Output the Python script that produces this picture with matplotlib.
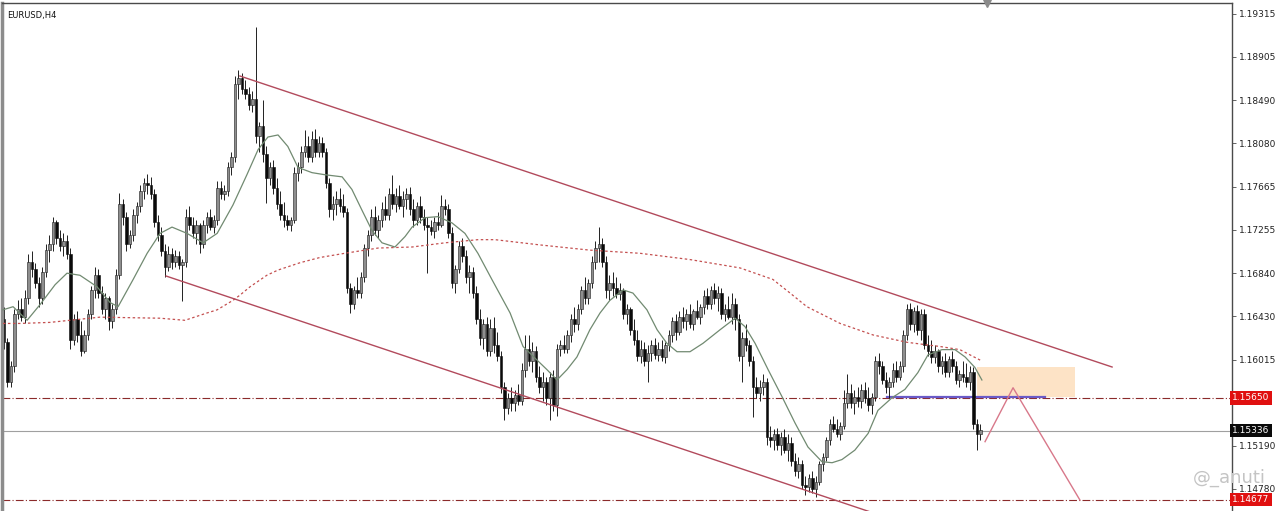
import matplotlib
matplotlib.use('agg')
import matplotlib.pyplot as plt
import matplotlib.transforms as mtransforms
import numpy as np

# EURUSD H4 candles (one per bar, oldest first)
opens = [
    1.1640, 1.1618, 1.1580, 1.1595, 1.1645, 1.1650, 1.1642, 1.1660, 1.1695, 1.1688,
    1.1675, 1.1660, 1.1685, 1.1706, 1.1712, 1.1733, 1.1718, 1.1710, 1.1715, 1.1702,
    1.1620, 1.1640, 1.1625, 1.1610, 1.1625, 1.1645, 1.1668, 1.1682, 1.1665, 1.1650,
    1.1660, 1.1638, 1.1650, 1.1682, 1.1750, 1.1738, 1.1712, 1.1720, 1.1740, 1.1748,
    1.1762, 1.1770, 1.1768, 1.1760, 1.1733, 1.1720, 1.1705, 1.1690, 1.1702, 1.1695,
    1.1700, 1.1692, 1.1695, 1.1738, 1.1730, 1.1722, 1.1730, 1.1712, 1.1730, 1.1738,
    1.1728, 1.1735, 1.1765, 1.1760, 1.1762, 1.1785, 1.1795, 1.1865, 1.1870, 1.1860,
    1.1855, 1.1845, 1.1850, 1.1815, 1.1825, 1.1798, 1.1775, 1.1785, 1.1765, 1.1750,
    1.1740, 1.1735, 1.1730, 1.1735, 1.1780, 1.1785, 1.1800, 1.1805, 1.1795, 1.1812,
    1.1800, 1.1808, 1.1800, 1.1770, 1.1745, 1.1750, 1.1755, 1.1748, 1.1742, 1.1670,
    1.1655, 1.1668, 1.1665, 1.1680, 1.1708, 1.1720, 1.1738, 1.1725, 1.1735, 1.1745,
    1.1740, 1.1760, 1.1750, 1.1758, 1.1748, 1.1755, 1.1760, 1.1745, 1.1735, 1.1748,
    1.1738, 1.1730, 1.1728, 1.1724, 1.1733, 1.1730, 1.1748, 1.1745, 1.1722, 1.1675,
    1.1688, 1.1710, 1.1700, 1.1680, 1.1685, 1.1665, 1.1640, 1.1622, 1.1635, 1.1610,
    1.1632, 1.1615, 1.1605, 1.1575, 1.1555, 1.1565, 1.1560, 1.1568, 1.1562, 1.1592,
    1.1612, 1.1600, 1.1610, 1.1585, 1.1575, 1.1580, 1.1565, 1.1585, 1.1558, 1.1612,
    1.1615, 1.1612, 1.1625, 1.1640, 1.1635, 1.1650, 1.1668, 1.1660, 1.1675, 1.1695,
    1.1708, 1.1712, 1.1695, 1.1668, 1.1675, 1.1670, 1.1664, 1.1668, 1.1645, 1.1650,
    1.1630, 1.1620, 1.1605, 1.1612, 1.1600, 1.1608, 1.1615, 1.1606, 1.1612, 1.1604,
    1.1615, 1.1625, 1.1638, 1.1628, 1.1642, 1.1638, 1.1645, 1.1635, 1.1648, 1.1642,
    1.1652, 1.1662, 1.1655, 1.1668, 1.1660, 1.1665, 1.1645, 1.1650, 1.1642, 1.1655,
    1.1640, 1.1605, 1.1622, 1.1615, 1.1600, 1.1575, 1.1570, 1.1575, 1.1580, 1.1528,
    1.1525, 1.1530, 1.1520, 1.1528, 1.1515, 1.1522, 1.1505, 1.1495, 1.1502, 1.1482,
    1.1480, 1.1488, 1.1478, 1.1485, 1.1502, 1.1508, 1.1525, 1.1540, 1.1535, 1.1530,
    1.1538, 1.1560, 1.1570, 1.1560, 1.1566, 1.1562, 1.1572, 1.1565, 1.1558, 1.1566,
    1.1600, 1.1595, 1.1582, 1.1575, 1.1580, 1.1592, 1.1585, 1.1595, 1.1625, 1.1650,
    1.1635, 1.1648, 1.1630, 1.1645, 1.1615, 1.1610, 1.1604, 1.1610, 1.1595, 1.1600,
    1.1590, 1.1602, 1.1595, 1.1582, 1.1588, 1.1585, 1.1580, 1.1590, 1.1540, 1.1530,
]
highs = [
    1.1652, 1.1622, 1.1600, 1.1650, 1.1658, 1.1660, 1.1668, 1.1702, 1.1705, 1.1694,
    1.1680, 1.1690, 1.1712, 1.1720, 1.1738, 1.1735, 1.1725, 1.1722, 1.1720, 1.1708,
    1.1645, 1.1648, 1.1638, 1.1630, 1.1650, 1.1672, 1.1690, 1.1688, 1.1672, 1.1665,
    1.1662, 1.1655, 1.1688, 1.1761, 1.1755, 1.1742, 1.1725, 1.1745, 1.1752, 1.1768,
    1.1775, 1.1779, 1.1776, 1.1764, 1.1740, 1.1728, 1.1712, 1.1710, 1.1708, 1.1706,
    1.1705, 1.1698, 1.1745, 1.1748, 1.1738, 1.1735, 1.1732, 1.1735, 1.1742, 1.1745,
    1.1740, 1.1772, 1.1772, 1.1768, 1.1790, 1.1800, 1.1872, 1.1878, 1.1875, 1.1868,
    1.1862, 1.1858, 1.1919, 1.1828, 1.1849, 1.1805, 1.1790, 1.1792, 1.1775, 1.1762,
    1.1752, 1.1740, 1.1738, 1.1785, 1.1790, 1.1805, 1.1821, 1.1815, 1.1820, 1.1822,
    1.1815, 1.1814, 1.1804, 1.1775, 1.1758, 1.1762, 1.1765, 1.1760, 1.1746, 1.1675,
    1.1672, 1.1680, 1.1685, 1.1712, 1.1725, 1.1745, 1.1748, 1.1740, 1.1752, 1.1758,
    1.1765, 1.1778, 1.1765, 1.1768, 1.1762, 1.1765, 1.1766, 1.1755, 1.1752, 1.1758,
    1.1745, 1.1738, 1.1735, 1.1738, 1.1742, 1.1759, 1.1755, 1.1750, 1.1728, 1.1692,
    1.1715, 1.1718, 1.1706, 1.1692, 1.1690, 1.1672, 1.1650, 1.1640, 1.1642, 1.1640,
    1.1642, 1.1628, 1.1610, 1.1580, 1.1570, 1.1575, 1.1572, 1.1578, 1.1598, 1.1625,
    1.1625, 1.1618, 1.1614, 1.1595, 1.1590, 1.1585, 1.1590, 1.1592, 1.1616, 1.1620,
    1.1625, 1.1630, 1.1645, 1.1652, 1.1655, 1.1672, 1.1680, 1.1678, 1.1700, 1.1715,
    1.1728, 1.1718, 1.1700, 1.1682, 1.1685, 1.1680, 1.1675, 1.1670, 1.1655, 1.1652,
    1.1640, 1.1630, 1.1620, 1.1618, 1.1615, 1.1620, 1.1622, 1.1618, 1.1620, 1.1618,
    1.1630, 1.1642, 1.1645, 1.1648, 1.1652, 1.1650, 1.1655, 1.1650, 1.1658, 1.1655,
    1.1668, 1.1670, 1.1672, 1.1675, 1.1672, 1.1670, 1.1655, 1.1662, 1.1665, 1.1660,
    1.1645, 1.1628, 1.1635, 1.1620, 1.1605, 1.1585, 1.1582, 1.1588, 1.1584, 1.1538,
    1.1535, 1.1536, 1.1532, 1.1535, 1.1530, 1.1528, 1.1512, 1.1508, 1.1506, 1.1490,
    1.1492, 1.1495, 1.1490, 1.1505, 1.1512, 1.1528, 1.1545, 1.1548, 1.1545, 1.1542,
    1.1572, 1.1588, 1.1578, 1.1572, 1.1575, 1.1578, 1.1580, 1.1575, 1.1570, 1.1605,
    1.1608, 1.1600, 1.1590, 1.1585, 1.1598, 1.1600, 1.1600, 1.1630, 1.1655, 1.1656,
    1.1652, 1.1654, 1.1650, 1.1650, 1.1625, 1.1620, 1.1615, 1.1612, 1.1605, 1.1608,
    1.1605, 1.1610, 1.1600, 1.1592, 1.1600, 1.1598, 1.1595, 1.1594, 1.1545, 1.1540,
]
lows = [
    1.1612, 1.1575, 1.1575, 1.1590, 1.1640, 1.1638, 1.1636, 1.1655, 1.1680, 1.1670,
    1.1652, 1.1655, 1.1680, 1.1695, 1.1705, 1.1712, 1.1705, 1.1700, 1.1698, 1.1612,
    1.1615, 1.1618, 1.1605, 1.1608, 1.1620, 1.1640, 1.1660, 1.1660, 1.1645, 1.1640,
    1.1630, 1.1632, 1.1645, 1.1678, 1.1730, 1.1705, 1.1708, 1.1715, 1.1732, 1.1742,
    1.1755, 1.1760, 1.1755, 1.1728, 1.1715, 1.1700, 1.1680, 1.1686, 1.1688, 1.1690,
    1.1688, 1.1657, 1.1690, 1.1725, 1.1718, 1.1712, 1.1703, 1.1708, 1.1722, 1.1725,
    1.1722, 1.1730, 1.1755, 1.1754, 1.1758, 1.1778, 1.1790, 1.1850, 1.1855, 1.1850,
    1.1840, 1.1838, 1.1808, 1.1800, 1.1790, 1.1751, 1.1768, 1.1760, 1.1745, 1.1735,
    1.1728, 1.1725, 1.1724, 1.1732, 1.1772, 1.1780, 1.1795, 1.1790, 1.1790, 1.1795,
    1.1795, 1.1795, 1.1765, 1.1738, 1.1735, 1.1740, 1.1742, 1.1738, 1.1665, 1.1646,
    1.1650, 1.1660, 1.1660, 1.1676, 1.1700, 1.1715, 1.1720, 1.1718, 1.1728, 1.1735,
    1.1735, 1.1745, 1.1742, 1.1745, 1.1738, 1.1745, 1.1740, 1.1728, 1.1730, 1.1732,
    1.1725, 1.1684, 1.1720, 1.1718, 1.1725, 1.1728, 1.1740, 1.1718, 1.1670, 1.1665,
    1.1684, 1.1695, 1.1675, 1.1665, 1.1660, 1.1635, 1.1615, 1.1612, 1.1605, 1.1605,
    1.1608, 1.1600, 1.1570, 1.1544, 1.1550, 1.1552, 1.1552, 1.1558, 1.1558, 1.1585,
    1.1595, 1.1590, 1.1580, 1.1570, 1.1562, 1.1558, 1.1544, 1.1552, 1.1548, 1.1605,
    1.1608, 1.1608, 1.1618, 1.1628, 1.1630, 1.1645, 1.1655, 1.1655, 1.1670, 1.1688,
    1.1695, 1.1690, 1.1660, 1.1658, 1.1662, 1.1660, 1.1658, 1.1640, 1.1635, 1.1625,
    1.1615, 1.1600, 1.1598, 1.1595, 1.1580, 1.1600, 1.1602, 1.1600, 1.1600, 1.1598,
    1.1610, 1.1618, 1.1620, 1.1625, 1.1632, 1.1630, 1.1632, 1.1630, 1.1640, 1.1635,
    1.1645, 1.1650, 1.1650, 1.1655, 1.1648, 1.1640, 1.1638, 1.1640, 1.1635, 1.1630,
    1.1600, 1.1580, 1.1610, 1.1595, 1.1547, 1.1565, 1.1562, 1.1568, 1.1520, 1.1518,
    1.1515, 1.1515, 1.1510, 1.1512, 1.1505, 1.1500, 1.1490, 1.1488, 1.1478, 1.1472,
    1.1475, 1.1474, 1.1470, 1.1482, 1.1495, 1.1505, 1.1520, 1.1532, 1.1528, 1.1525,
    1.1535, 1.1555, 1.1555, 1.1550, 1.1556, 1.1555, 1.1560, 1.1552, 1.1550, 1.1562,
    1.1588, 1.1578, 1.1570, 1.1565, 1.1575, 1.1580, 1.1582, 1.1590, 1.1620, 1.1630,
    1.1628, 1.1625, 1.1620, 1.1612, 1.1605, 1.1598, 1.1598, 1.1590, 1.1588, 1.1585,
    1.1585, 1.1590, 1.1578, 1.1575, 1.1580, 1.1575, 1.1572, 1.1535, 1.1515, 1.1525,
]
closes = [
    1.1618, 1.1580, 1.1595, 1.1645, 1.1650, 1.1642, 1.1660, 1.1695, 1.1688, 1.1675,
    1.1660, 1.1685, 1.1706, 1.1712, 1.1733, 1.1718, 1.1710, 1.1715, 1.1702, 1.1620,
    1.1640, 1.1625, 1.1610, 1.1625, 1.1645, 1.1668, 1.1682, 1.1665, 1.1650, 1.1660,
    1.1638, 1.1650, 1.1682, 1.1750, 1.1738, 1.1712, 1.1720, 1.1740, 1.1748, 1.1762,
    1.1770, 1.1768, 1.1760, 1.1733, 1.1720, 1.1705, 1.1690, 1.1702, 1.1695, 1.1700,
    1.1692, 1.1695, 1.1738, 1.1730, 1.1722, 1.1730, 1.1712, 1.1730, 1.1738, 1.1728,
    1.1735, 1.1765, 1.1760, 1.1762, 1.1785, 1.1795, 1.1865, 1.1870, 1.1860, 1.1855,
    1.1845, 1.1850, 1.1815, 1.1825, 1.1798, 1.1775, 1.1785, 1.1765, 1.1750, 1.1740,
    1.1735, 1.1730, 1.1735, 1.1780, 1.1785, 1.1800, 1.1805, 1.1795, 1.1812, 1.1800,
    1.1808, 1.1800, 1.1770, 1.1745, 1.1750, 1.1755, 1.1748, 1.1742, 1.1670, 1.1655,
    1.1668, 1.1665, 1.1680, 1.1708, 1.1720, 1.1738, 1.1725, 1.1735, 1.1745, 1.1740,
    1.1760, 1.1750, 1.1758, 1.1748, 1.1755, 1.1760, 1.1745, 1.1735, 1.1748, 1.1738,
    1.1730, 1.1728, 1.1724, 1.1733, 1.1730, 1.1748, 1.1745, 1.1722, 1.1675, 1.1688,
    1.1710, 1.1700, 1.1680, 1.1685, 1.1665, 1.1640, 1.1622, 1.1635, 1.1610, 1.1632,
    1.1615, 1.1605, 1.1575, 1.1555, 1.1565, 1.1560, 1.1568, 1.1562, 1.1592, 1.1612,
    1.1600, 1.1610, 1.1585, 1.1575, 1.1580, 1.1565, 1.1585, 1.1558, 1.1612, 1.1615,
    1.1612, 1.1625, 1.1640, 1.1635, 1.1650, 1.1668, 1.1660, 1.1675, 1.1695, 1.1708,
    1.1712, 1.1695, 1.1668, 1.1675, 1.1670, 1.1664, 1.1668, 1.1645, 1.1650, 1.1630,
    1.1620, 1.1605, 1.1612, 1.1600, 1.1608, 1.1615, 1.1606, 1.1612, 1.1604, 1.1615,
    1.1625, 1.1638, 1.1628, 1.1642, 1.1638, 1.1645, 1.1635, 1.1648, 1.1642, 1.1652,
    1.1662, 1.1655, 1.1668, 1.1660, 1.1665, 1.1645, 1.1650, 1.1642, 1.1655, 1.1640,
    1.1605, 1.1622, 1.1615, 1.1600, 1.1575, 1.1570, 1.1575, 1.1580, 1.1528, 1.1525,
    1.1530, 1.1520, 1.1528, 1.1515, 1.1522, 1.1505, 1.1495, 1.1502, 1.1482, 1.1480,
    1.1488, 1.1478, 1.1485, 1.1502, 1.1508, 1.1525, 1.1540, 1.1535, 1.1530, 1.1538,
    1.1560, 1.1570, 1.1560, 1.1566, 1.1562, 1.1572, 1.1565, 1.1558, 1.1566, 1.1600,
    1.1595, 1.1582, 1.1575, 1.1580, 1.1592, 1.1585, 1.1595, 1.1625, 1.1650, 1.1635,
    1.1648, 1.1630, 1.1645, 1.1615, 1.1610, 1.1604, 1.1610, 1.1595, 1.1600, 1.1590,
    1.1602, 1.1595, 1.1582, 1.1588, 1.1585, 1.1580, 1.1590, 1.1540, 1.1530, 1.1534,
]

# moving averages (bar index, price)
ma_fast_bar = [-0.3, 2.6, 6.6, 10.3, 14.6, 18.0, 21.7, 26.6, 30.3, 32.6,
               36.9, 40.9, 44.6, 48.0, 52.3, 56.9, 60.9, 65.4, 69.4, 72.6,
               75.4, 78.3, 81.1, 84.0, 88.0, 91.7, 96.6, 99.4, 102.3, 105.1,
               108.0, 111.7, 114.6, 116.6, 120.3, 124.0, 128.0, 131.7, 135.4, 139.4,
               144.6, 148.3, 152.3, 155.1, 158.0, 160.9, 163.7, 167.4, 170.3, 173.1,
               176.9, 179.7, 183.7, 186.6, 189.4, 192.3, 196.0, 199.7, 204.6, 208.9,
               211.7, 214.6, 218.3, 222.3, 226.0, 229.7, 233.7, 236.6, 239.4, 243.1,
               246.9, 249.7, 253.7, 257.4, 261.1, 264.0, 268.0, 271.7, 274.6, 277.4,
               279.4]
ma_fast = [1.1649, 1.1652, 1.1639, 1.1654, 1.1673, 1.1684, 1.1682, 1.1671, 1.1656, 1.1652,
           1.1678, 1.1703, 1.1722, 1.1728, 1.1722, 1.1713, 1.1722, 1.1749, 1.1778, 1.1802,
           1.1814, 1.1816, 1.1805, 1.1785, 1.1780, 1.1778, 1.1776, 1.1764, 1.1744, 1.1725,
           1.1713, 1.1709, 1.1719, 1.1728, 1.1737, 1.1738, 1.1732, 1.1722, 1.1703, 1.1678,
           1.1646, 1.1614, 1.1601, 1.1592, 1.1582, 1.1592, 1.1604, 1.1630, 1.1646, 1.1658,
           1.1668, 1.1665, 1.1649, 1.1630, 1.1617, 1.1609, 1.1609, 1.1617, 1.1630, 1.1641,
           1.1633, 1.1617, 1.1592, 1.1566, 1.1541, 1.1518, 1.1504, 1.1503, 1.1506, 1.1515,
           1.1531, 1.1553, 1.1565, 1.1573, 1.1589, 1.1606, 1.1611, 1.1611, 1.1604, 1.1594,
           1.1582]
ma_slow_bar = [-0.3, 4.6, 13.1, 27.4, 44.6, 51.7, 58.0, 60.9, 65.4, 67.4,
               70.3, 75.1, 78.3, 84.6, 90.3, 97.4, 106.9, 116.6, 126.0, 135.4,
               140.3, 153.1, 167.4, 181.7, 196.0, 210.3, 219.7, 224.6, 229.4, 238.9,
               248.3, 258.0, 267.4, 273.1, 278.9]
ma_slow = [1.1636, 1.1636, 1.1637, 1.1642, 1.1641, 1.1639, 1.1646, 1.1649, 1.1658, 1.1663,
           1.1671, 1.1682, 1.1687, 1.1694, 1.1699, 1.1703, 1.1708, 1.1709, 1.1713, 1.1716,
           1.1716, 1.1711, 1.1706, 1.1703, 1.1697, 1.1689, 1.1678, 1.1665, 1.1652, 1.1636,
           1.1625, 1.1618, 1.1614, 1.1611, 1.1601]

# drawn objects (bar index, price)
channel_upper = ([67.4, 316.6], [1.18723, 1.15944])
channel_lower = ([46.3, 250.3], [1.16813, 1.14529])
projection_bar = [280.3, 288.3, 307.4]
projection_price = [1.15231, 1.15746, 1.14674]
zone_bars = (278, 306)
zone_prices = (1.15657, 1.15944)
support_bars = (252.3, 297.4)
support_price = 1.15655

level_resist = 1.15650
level_target = 1.14677
bid_price = 1.15336

tick_values = [1.19315, 1.18905, 1.18490, 1.18080, 1.17665, 1.17255,
               1.16840, 1.16430, 1.16015, 1.15190, 1.14780]
tick_labels = ['1.19315', '1.18905', '1.18490', '1.18080', '1.17665', '1.17255',
               '1.16840', '1.16430', '1.16015', '1.15190', '1.14780']

o = np.array(opens)
h = np.array(highs)
l = np.array(lows)
c = np.array(closes)
x = np.arange(len(c))

fig = plt.figure(figsize=(12.8, 5.11), dpi=100)
ax = fig.add_axes([2 / 1280, 0, 1230 / 1280, 508 / 511])
ax.set_xlim(-0.57, 350.86)
ax.set_ylim(1.14569, 1.19420)

# zone and drawn objects
ax.add_patch(plt.Rectangle((zone_bars[0], zone_prices[0]), zone_bars[1] - zone_bars[0],
                           zone_prices[1] - zone_prices[0], facecolor='#fde3c6',
                           edgecolor='none', zorder=1))

ax.axhline(level_resist, color='#8b2a2a', lw=0.8, ls=(0, (7, 2, 1, 2)), zorder=1.5)
ax.axhline(level_target, color='#8b2a2a', lw=0.8, ls=(0, (7, 2, 1, 2)), zorder=1.5)
ax.axhline(bid_price, color='#a0a0a0', lw=0.8, zorder=1.5)
ax.plot(support_bars, [support_price, support_price], color='#6a5ac8', lw=1.6, zorder=1.6)

# candles
up = c >= o
ax.vlines(x, l, h, color='#111111', lw=0.65, zorder=2)
body = np.maximum(np.abs(c - o), 0.00003)
ax.bar(x[up], body[up], bottom=o[up], width=0.66, color='#8e8e8e',
       edgecolor='#1a1a1a', linewidth=0.4, zorder=2.5)
ax.bar(x[~up], body[~up], bottom=c[~up], width=0.66, color='#0a0a0a',
       edgecolor='#0a0a0a', linewidth=0.4, zorder=2.5)

# moving averages
ax.plot(ma_slow_bar, ma_slow, color='#c45050', lw=0.9, ls=(0, (2, 2)), zorder=3)
ax.plot(ma_fast_bar, ma_fast, color='#718a71', lw=0.9, zorder=3)

# channel and projection
ax.plot(*channel_upper, color='#b24a5c', lw=1.0, zorder=4)
ax.plot(*channel_lower, color='#b24a5c', lw=1.0, zorder=4)
ax.plot(projection_bar, projection_price, color='#d8788a', lw=1.0, zorder=4)

# axes styling
ax.spines['bottom'].set_visible(False)
ax.spines['left'].set_color('#8c8c8c')
ax.spines['left'].set_linewidth(2.5)
ax.spines['top'].set_color('#4a4a4a')
ax.spines['right'].set_color('#4a4a4a')
ax.spines['top'].set_linewidth(1.0)
ax.spines['right'].set_linewidth(1.0)
ax.set_xticks([])
ax.yaxis.tick_right()
ax.set_yticks(tick_values)
ax.set_yticklabels(tick_labels)
ax.tick_params(axis='y', length=3, width=0.6, pad=2, labelsize=6.5,
               colors='#4a4a4a', labelcolor='#222222')

trans = mtransforms.blended_transform_factory(ax.transAxes, ax.transData)
for val, fc in [(level_resist, '#e01010'), (bid_price, '#0a0a0a'), (level_target, '#e01010')]:
    ax.text(1.0, val, f'{val:.5f}', transform=trans, ha='left', va='center',
            fontsize=6.5, color='white', clip_on=False, zorder=6,
            bbox=dict(boxstyle='square,pad=0.25', fc=fc, ec='none'))

ax.plot([281], [1.0], marker='v', color='#8a8a8a', markersize=6,
        transform=mtransforms.blended_transform_factory(ax.transData, ax.transAxes),
        clip_on=False, zorder=6)

ax.text(0.004, 0.985, 'EURUSD,H4', transform=ax.transAxes, ha='left', va='top',
        fontsize=6, color='#111111')

fig.text(1193 / 1280, 1 - 478 / 511, '@_anuti', ha='left', va='center',
         fontsize=13, color='#c4c4c4')

fig.savefig('out.png', dpi=100, facecolor='white')
